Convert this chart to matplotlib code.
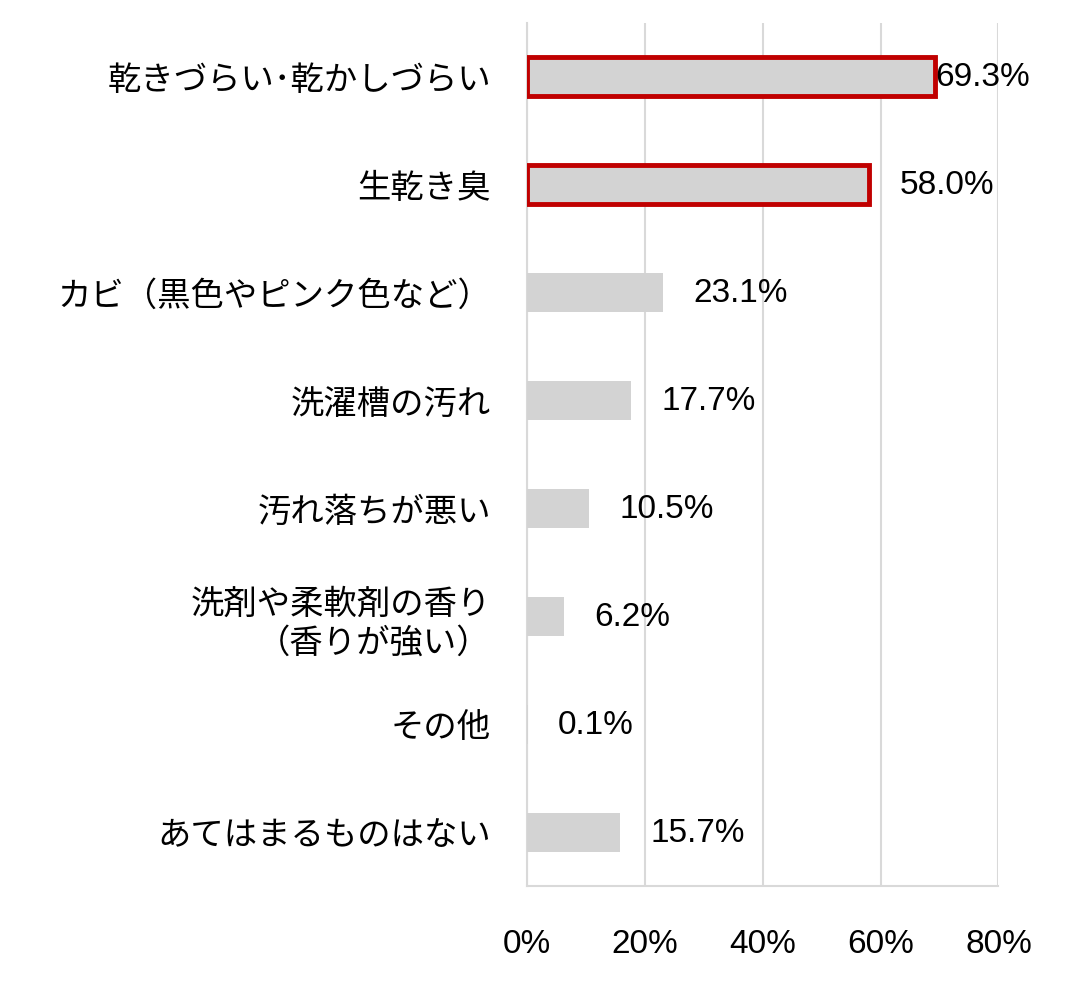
import matplotlib
matplotlib.use("Agg")
import matplotlib.pyplot as plt

categories = ["乾きづらい･乾かしづらい", "生乾き臭", "カビ（黒色やピンク色など）", "洗濯槽の汚れ",
              "汚れ落ちが悪い", "洗剤や柔軟剤の香り\n（香りが強い）", "その他", "あてはまるものはない"]
values = [69.3, 58.0, 23.1, 17.7, 10.5, 6.2, 0.1, 15.7]
highlight = [True, True, False, False, False, False, False, False]
xticks = [0, 20, 40, 60, 80]

plt.rcParams["font.family"] = ["Liberation Sans", "Noto Sans CJK JP"]
fig = plt.figure(figsize=(10.69, 9.87), dpi=100)
ax = fig.add_axes([0.493, 0.101, 0.441, 0.875])
y = list(range(len(categories)))
for i, (v, h) in enumerate(zip(values, highlight)):
    if h:
        ax.barh(i, v, height=0.36, color="#d3d3d3", edgecolor="#c00000", linewidth=3.5, zorder=3)
    else:
        ax.barh(i, v, height=0.36, color="#d3d3d3", zorder=3)
    ax.annotate(f"{v:.1f}%", (v, i), xytext=(0 if i == 0 else 22, 0), textcoords="offset points",
                va="center", ha="left", fontsize=24)
ax.set_xlim(0, 80)
ax.set_ylim(len(categories) - 0.5, -0.5)
ax.set_yticks(y)
ax.set_yticklabels(categories, fontsize=24, linespacing=1.3)
ax.set_xticks(xticks)
ax.set_xticklabels([f"{t}%" for t in xticks], fontsize=24)
ax.tick_params(length=0)
ax.tick_params(axis="x", pad=30)
ax.tick_params(axis="y", pad=26)
ax.grid(axis="x", color="#d9d9d9", linewidth=1.5, zorder=0)
for s in ["top", "right"]:
    ax.spines[s].set_visible(False)
for s in ["left", "bottom"]:
    ax.spines[s].set_color("#d9d9d9")
    ax.spines[s].set_linewidth(1.5)
fig.savefig("out.png", dpi=100)
